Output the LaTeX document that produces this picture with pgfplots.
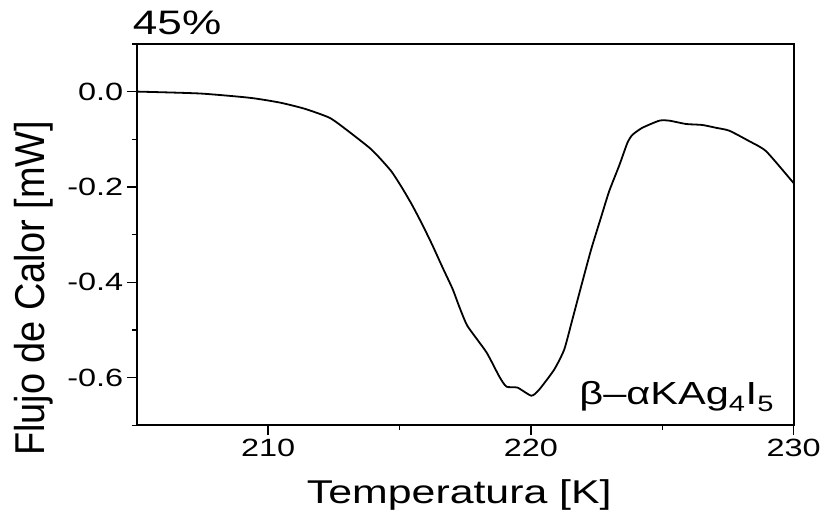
\documentclass[border=0pt]{standalone}
\usepackage{fontspec}
\setmainfont{Liberation Sans}
\usepackage{graphicx}
\usepackage{pgfplots}
\pgfplotsset{compat=1.18}
\usetikzlibrary{calc}
\newcommand\hs[1]{\scalebox{1.3}[1]{#1}}

\begin{document}
\begin{tikzpicture}
\begin{axis}[
  name=ax,
  scale only axis,
  width=658bp, height=382bp,
  xmin=205, xmax=230, ymin=-0.7, ymax=0.1,
  xtick={210,220,230}, minor xtick={215,225},
  ytick={-0.6,-0.4,-0.2,0}, minor ytick={-0.7,-0.5,-0.3,-0.1,0.1},
  tick align=outside, tick pos=left,
  major tick length=10bp, minor tick length=5bp,
  every tick/.style={black, line width=1.5bp},
  axis line style={line width=2bp},
  /pgf/number format/assume math mode=true,
  xticklabel={\hs{\pgfmathprintnumber{\tick}}},
  yticklabel={\hs{\pgfmathprintnumber[fixed,fixed zerofill,precision=1]{\tick}}},
  tick label style={font=\fontsize{25bp}{28bp}\selectfont},
  xlabel={\hs{Temperatura [K]}},
  every axis x label/.style={at={(rel axis cs:0.491,0)}, anchor=base, yshift=-78bp,
    font=\fontsize{33bp}{36bp}\selectfont},
  ylabel={\scalebox{1}[1.1]{Flujo de Calor [mW]}},
  every axis y label/.style={at={(rel axis cs:-0.157,0.359)}, anchor=center, rotate=90,
    font=\fontsize{38bp}{40bp}\selectfont},
  clip=false,
]
\addplot[black, line width=1.8bp, smooth, tension=0.35] table {
x y
205.00 0.000
207.40 -0.004
209.30 -0.013
210.44 -0.023
211.39 -0.036
212.34 -0.055
212.98 -0.080
213.86 -0.118
214.24 -0.139
214.70 -0.168
215.11 -0.203
215.49 -0.239
215.87 -0.279
216.25 -0.322
216.63 -0.368
217.02 -0.414
217.28 -0.452
217.59 -0.492
218.31 -0.547
218.80 -0.598
219.07 -0.619
219.49 -0.621
220.02 -0.638
220.32 -0.625
220.89 -0.583
221.27 -0.541
221.58 -0.478
221.96 -0.399
222.30 -0.330
222.68 -0.262
222.98 -0.209
223.37 -0.154
223.67 -0.108
223.86 -0.091
224.24 -0.076
224.89 -0.061
225.27 -0.061
225.91 -0.068
226.52 -0.070
227.05 -0.076
227.55 -0.082
228.31 -0.104
228.95 -0.125
229.94 -0.188
230.00 -0.192
};
\node[anchor=base west, font=\fontsize{34bp}{36bp}\selectfont, inner sep=0pt]
  at (rel axis cs:0,1) [xshift=-4bp, yshift=9bp] {\hs{45\%}};
\node[anchor=base west, font=\fontsize{32bp}{34bp}\selectfont, inner sep=0pt]
  at (axis cs:221.84,-0.657) {\hs{β\textendash αKAg\textsubscript{4}I\textsubscript{5}}};
\end{axis}
\path ($(ax.south west)+(-137bp,-81bp)$) rectangle ($(ax.north east)+(29bp,44bp)$);
\end{tikzpicture}
\end{document}
